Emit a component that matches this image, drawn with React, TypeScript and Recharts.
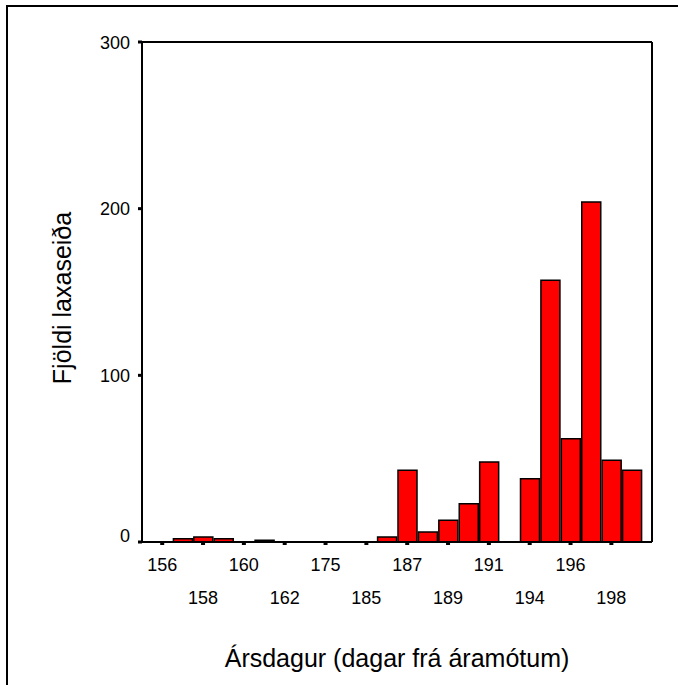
import React from 'react';
import { BarChart, Bar, XAxis, YAxis, Label, CartesianGrid } from 'recharts';

// Categories (day of year) shown on the x axis
const categories = [
  '156', '157', '158', '159', '160', '161', '162', '170', '175', '180', '185', '186',
  '187', '188', '189', '190', '191', '193', '194', '195', '196', '197', '198', '199',
];
// Number of salmon smolts per category
const counts = [
  0, 2, 3, 2, 0, 1, 0, 0, 0, 0, 0, 3,
  43, 6, 13, 23, 48, 0, 38, 157, 62, 204, 49, 43,
];
const yTicks = [0, 100, 200, 300];
const xTitle = 'Ársdagur (dagar frá áramótum)';
const yTitle = 'Fjöldi laxaseiða';

const data = categories.map((day, i) => ({ day, count: counts[i] }));

const FONT = '"Liberation Sans", Arial, Helvetica, sans-serif';

function XTick(props: any) {
  const { x, y, payload } = props;
  const idx = categories.indexOf(String(payload.value));
  const lower = idx % 4 === 2;
  return (
    <text x={x} y={y + (lower ? 57 : 24)} textAnchor="middle" fontFamily={FONT} fontSize={18} fontWeight="normal" fill="#000">
      {payload.value}
    </text>
  );
}

function YTick(props: any) {
  const { x, y, payload } = props;
  const shift = payload.value === 0 ? -7 : 0;
  return (
    <text x={x - 6} y={y + shift + 6.5} textAnchor="end" fontFamily={FONT} fontSize={18} fontWeight="normal" fill="#000">
      {payload.value}
    </text>
  );
}

const topEdge = (p: any) => {
  const o = p && p.offset ? p.offset : { top: 42 };
  return [o.top];
};
const rightEdge = (p: any) => {
  const o = p && p.offset ? p.offset : { left: 142, width: 510 };
  return [o.left + o.width];
};

export default function App() {
  return (
    <div
      style={{
        position: 'absolute',
        left: 0,
        top: 0,
        width: 678,
        height: 685,
        overflow: 'hidden',
        background: '#fff',
      }}
    >
      <div
        style={{
          position: 'absolute',
          left: 6,
          top: 5,
          width: 700,
          height: 700,
          borderLeft: '2px solid #000',
          borderTop: '2px solid #000',
        }}
      />
      <div style={{ position: 'absolute', left: 0, top: 0 }}>
        <BarChart
          width={678}
          height={685}
          data={data}
          margin={{ top: 42, right: 26, left: 0, bottom: 0 }}
        >
          <CartesianGrid
            stroke="#000"
            strokeWidth={2}
            horizontalCoordinatesGenerator={topEdge}
            verticalCoordinatesGenerator={rightEdge}
          />
          <XAxis
            dataKey="day"
            type="category"
            interval={1}
            padding={{ left: 10, right: 10 }}
            height={143}
            axisLine={{ stroke: '#000', strokeWidth: 2 }}
            tickLine={{ stroke: '#000', strokeWidth: 4 }}
            tickSize={3}
            tick={<XTick />}
          >
            <Label
              content={(p: any) => {
                const vb = p.viewBox || { x: 142, y: 542, width: 510, height: 143 };
                return (
                  <text
                    x={vb.x + vb.width / 2}
                    y={vb.y + 125}
                    textAnchor="middle"
                    fontFamily={FONT}
                    fontSize={25}
                    fill="#000"
                  >
                    {xTitle}
                  </text>
                );
              }}
            />
          </XAxis>
          <YAxis
            type="number"
            domain={[0, 300]}
            ticks={yTicks}
            width={142}
            axisLine={{ stroke: '#000', strokeWidth: 2 }}
            tickLine={{ stroke: '#000', strokeWidth: 3 }}
            tickSize={4}
            tick={<YTick />}
          >
            <Label
              content={(p: any) => {
                const vb = p.viewBox || { x: 0, y: 42, width: 142, height: 500 };
                const cx = vb.x + 71;
                const cy = vb.y + vb.height / 2 + 6;
                return (
                  <text
                    x={cx}
                    y={cy}
                    transform={`rotate(-90, ${cx}, ${cy})`}
                    textAnchor="middle"
                    fontFamily={FONT}
                    fontSize={25}
                    fill="#000"
                  >
                    {yTitle}
                  </text>
                );
              }}
            />
          </YAxis>
          <Bar
            dataKey="count"
            fill="#ff0000"
            stroke="#000"
            strokeWidth={1.5}
            barSize={19}
            isAnimationActive={false}
          />
        </BarChart>
      </div>
    </div>
  );
}
